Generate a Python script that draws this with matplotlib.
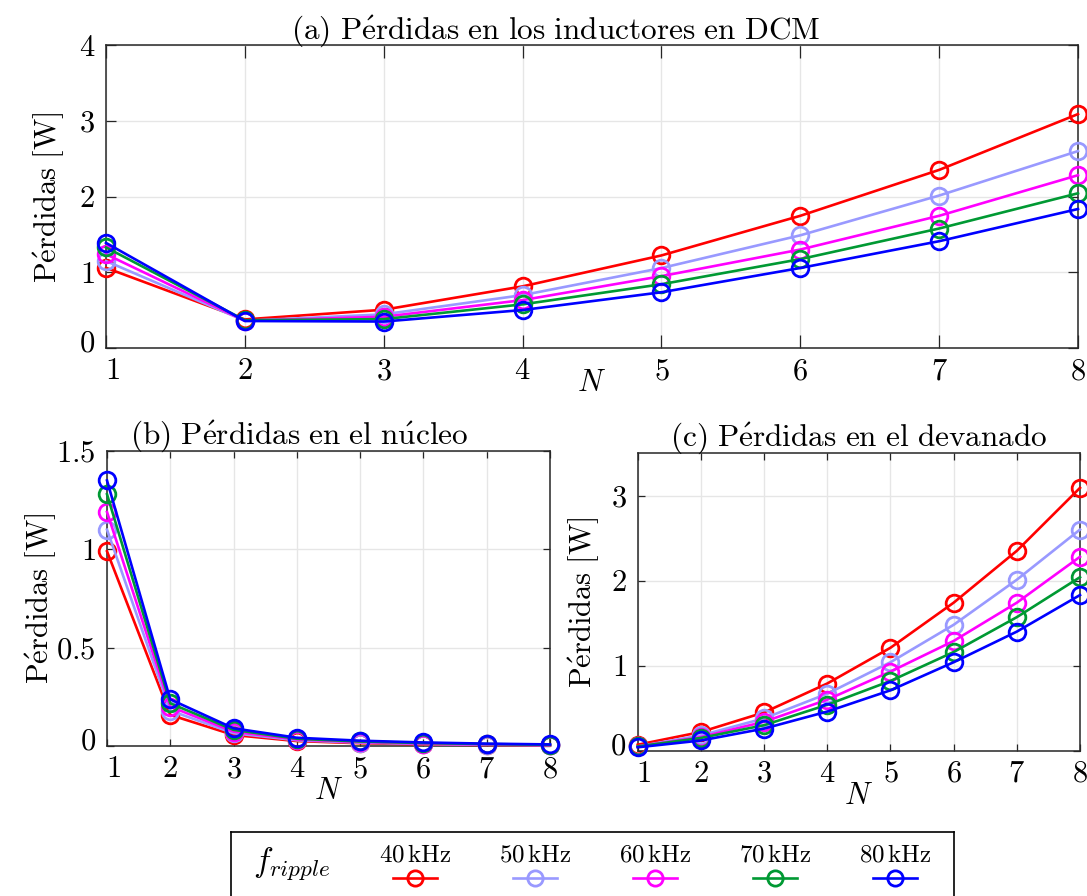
import numpy as np
import matplotlib
matplotlib.use("Agg")
import matplotlib.pyplot as plt
from matplotlib.transforms import ScaledTranslation

plt.rcParams["mathtext.fontset"] = "cm"
plt.rcParams["font.family"] = "serif"
plt.rcParams["font.serif"] = ["cmr10", "DejaVu Serif"]
plt.rcParams["axes.unicode_minus"] = False

# ---- data -------------------------------------------------------------
N = [1, 2, 3, 4, 5, 6, 7, 8]
freq_labels = ["40", "50", "60", "70", "80"]
colors = ["#ff0000", "#9999ff", "#ff00ff", "#009933", "#0000ff"]

# core losses [W] for each ripple frequency
core_40 = [0.99, 0.158, 0.056, 0.025, 0.014, 0.008, 0.005, 0.003]
core_50 = [1.10, 0.180, 0.065, 0.029, 0.017, 0.010, 0.006, 0.004]
core_60 = [1.19, 0.200, 0.073, 0.033, 0.020, 0.012, 0.008, 0.005]
core_70 = [1.28, 0.217, 0.082, 0.037, 0.023, 0.015, 0.010, 0.006]
core_80 = [1.35, 0.237, 0.090, 0.042, 0.027, 0.018, 0.012, 0.008]

# winding losses [W] for each ripple frequency
wind_40 = [0.07, 0.22, 0.45, 0.79, 1.21, 1.74, 2.35, 3.09]
wind_50 = [0.05, 0.18, 0.38, 0.67, 1.04, 1.48, 2.01, 2.60]
wind_60 = [0.05, 0.16, 0.34, 0.60, 0.93, 1.29, 1.74, 2.28]
wind_70 = [0.05, 0.15, 0.30, 0.54, 0.82, 1.16, 1.57, 2.04]
wind_80 = [0.04, 0.12, 0.26, 0.46, 0.71, 1.04, 1.40, 1.83]

core = [core_40, core_50, core_60, core_70, core_80]
wind = [wind_40, wind_50, wind_60, wind_70, wind_80]
# total inductor losses = core + winding
total = [list(np.array(c) + np.array(w)) for c, w in zip(core, wind)]


def tex(s):
    s = s.replace(" ", r"\ ").replace("é", r"\acute{e}").replace("ú", r"\acute{u}")
    return r"$\mathrm{" + s + "}$"


FS = 22
W, H = 1087, 896
fig = plt.figure(figsize=(W / 100, H / 100), dpi=100)


def px_axes(left, top, right, bottom):
    return fig.add_axes([left / W, 1 - bottom / H, (right - left) / W, (bottom - top) / H])


def style(ax, ylim, yticks, ylabels, xlen, ylen):
    ax.set_xlim(1, 8)
    ax.set_ylim(*ylim)
    ax.set_xticks(N)
    ax.set_xticklabels([rf"${n}$" for n in N], fontsize=FS)
    ax.set_yticks(yticks)
    ax.set_yticklabels([rf"${t}$" for t in ylabels], fontsize=FS)
    ax.grid(True, color="#e6e6e6", linewidth=1.0)
    ax.set_axisbelow(True)
    ax.tick_params(axis="x", direction="in", top=True, length=xlen, width=0.9,
                   color="#262626", pad=7)
    ax.tick_params(axis="y", direction="in", right=True, length=ylen, width=0.9,
                   color="#262626", pad=8)
    for sp in ax.spines.values():
        sp.set_color("#262626")
        sp.set_linewidth(1.1)
    # MATLAB-style nudging of the corner labels
    xt = ax.xaxis.get_major_ticks()[0].label1
    xt.set_transform(xt.get_transform() + ScaledTranslation(6 / 100, 0, fig.dpi_scale_trans))
    yt = ax.yaxis.get_major_ticks()[0].label1
    yt.set_transform(yt.get_transform() + ScaledTranslation(0, 7 / 100, fig.dpi_scale_trans))


def draw(ax, series, ms):
    for ys, c in zip(series, colors):
        ax.plot(N, ys, color=c, linewidth=1.9, marker="o", markersize=ms,
                markerfacecolor="none", markeredgecolor=c, markeredgewidth=2.0,
                clip_on=False, zorder=3)


# (a) total losses
ax_a = px_axes(106, 45.5, 1078, 348)
draw(ax_a, total, 12)
style(ax_a, (0, 4), [0, 1, 2, 3, 4], ["0", "1", "2", "3", "4"], 9.5, 7)
ax_a.set_title(tex("(a) Pérdidas en los inductores en DCM"), fontsize=FS + 0.5, x=0.463, pad=5)
ax_a.set_ylabel(tex("Pérdidas [W]"), fontsize=FS, labelpad=8)
ax_a.set_xlabel(r"$N$", fontsize=FS, labelpad=-11)

# (b) core losses
ax_b = px_axes(107, 451, 550, 746)
draw(ax_b, core, 12)
style(ax_b, (0, 1.5), [0, 0.5, 1, 1.5], ["0", "0.5", "1", "1.5"], 5, 5)
ax_b.set_title(tex("(b) Pérdidas en el núcleo"), fontsize=FS + 0.5, x=0.433, pad=5)
ax_b.set_ylabel(tex("Pérdidas [W]"), fontsize=FS, labelpad=-2)
ax_b.set_xlabel(r"$N$", fontsize=FS, labelpad=-4)

# (c) winding losses
ax_c = px_axes(637.7, 453, 1080, 750.7)
draw(ax_c, wind, 12)
style(ax_c, (0, 3.5), [0, 1, 2, 3], ["0", "1", "2", "3"], 5, 5)
ax_c.set_title(tex("(c) Pérdidas en el devanado"), fontsize=FS + 0.5, pad=5)
ax_c.set_ylabel(tex("Pérdidas [W]"), fontsize=FS, labelpad=6)
ax_c.set_xlabel(r"$N$", fontsize=FS, labelpad=-4)

# legend box along the bottom edge
lg = px_axes(231, 832, 954, 920)
lg.set_xlim(0, 723)
lg.set_ylim(88, 0)
lg.set_xticks([])
lg.set_yticks([])
for sp in lg.spines.values():
    sp.set_color("black")
    sp.set_linewidth(1.2)
lg.text(61, 32, r"$f_{ripple}$", fontsize=24, ha="center", va="center")
for i, (lab, c) in enumerate(zip(freq_labels, colors)):
    xc = 184 + i * 120
    lg.text(xc, 23, rf"${lab}\,\mathrm{{kHz}}$", fontsize=18, ha="center", va="center")
    lg.plot([xc - 22, xc + 22], [46, 46], color=c, linewidth=1.9)
    lg.plot([xc], [46], color=c, marker="o", markersize=11, markerfacecolor="none",
            markeredgewidth=2.0)

fig.savefig("out.png", dpi=100)
